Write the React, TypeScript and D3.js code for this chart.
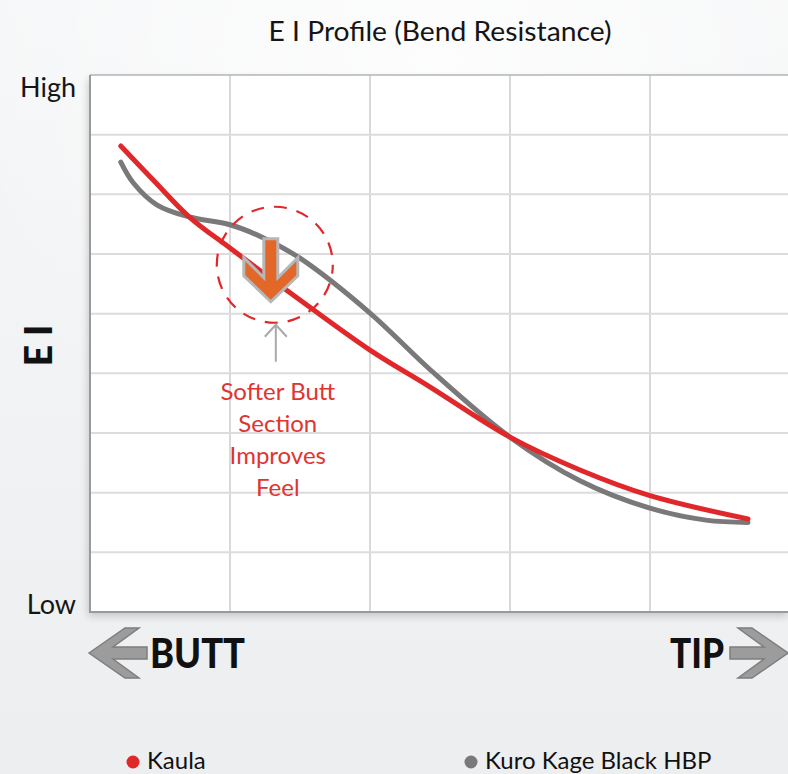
import React from "react"
import * as d3 from "d3"

const W = 788
const H = 774
const PLOT = { left: 90, top: 75, right: 790, bottom: 612 }

// grid in "cells": 5 columns along the shaft, 9 rows of stiffness
const COLS = [0, 1, 2, 3, 4, 5]
const ROWS = [0, 1, 2, 3, 4, 5, 6, 7, 8, 9]

const SERIES_NAMES = ["Kaula", "Kuro Kage Black HBP"]
const SERIES_COLORS = ["#e0282b", "#7b7879"]

const kaulaX = [0.22, 0.46, 0.71, 1.0, 1.5, 2.0, 2.43, 3.0, 3.5, 4.0, 4.7]
const kaulaY = [7.81, 7.22, 6.62, 6.1, 5.23, 4.39, 3.77, 2.93, 2.38, 1.95, 1.56]

const kuroX = [0.22, 0.31, 0.48, 0.71, 1.0, 1.24, 1.5, 2.0, 2.43, 3.0, 3.5, 4.0, 4.4, 4.7]
const kuroY = [7.54, 7.19, 6.82, 6.62, 6.49, 6.27, 5.93, 5.01, 4.06, 2.93, 2.2, 1.74, 1.54, 1.5]

const NOTE_LINES = ["Softer Butt", "Section", "Improves", "Feel"]
const NOTE_AT = { x: 1.32, y: 5.82 }

const FONT = "Lato, 'Open Sans', sans-serif"

export default function App() {
    const x = d3.scaleLinear().domain([0, 5]).range([PLOT.left, PLOT.right])
    const y = d3.scaleLinear().domain([0, 9]).range([PLOT.bottom, PLOT.top])

    const curve = d3
        .line<[number, number]>()
        .x((d) => x(d[0]))
        .y((d) => y(d[1]))
        .curve(d3.curveCatmullRom.alpha(0.5))

    const kaulaPath = curve(kaulaX.map((v, i) => [v, kaulaY[i]]))
    const kuroPath = curve(kuroX.map((v, i) => [v, kuroY[i]]))

    const cx = x(NOTE_AT.x)
    const cy = y(NOTE_AT.y)
    const r = 58

    // orange down arrow inside the circle (relative to circle centre)
    const downArrow = [
        [-11, -26], [3, -26], [3, 13], [23, -7], [23, 11], [-4, 37],
        [-31, 11], [-31, -7], [-11, 13],
    ]
        .map((p) => `${cx + p[0]},${cy + p[1]}`)
        .join(" ")

    const bigArrow = (dir: 1 | -1, tipX: number, midY: number) => {
        const pts = [
            [0, 0], [36, -25], [50, -25], [24, -6], [58, -6],
            [58, 6], [24, 6], [50, 25], [36, 25],
        ]
        return pts.map((p) => `${tipX + dir * p[0]},${midY + p[1]}`).join(" ")
    }

    return (
        <svg
            width={W}
            height={H}
            style={{ position: "absolute", left: 0, top: 0 }}
            fontFamily={FONT}
        >
            <defs>
                <linearGradient id="bg" x1="0" y1="0" x2="0" y2="1">
                    <stop offset="0" stopColor="#f6f7f8" />
                    <stop offset="1" stopColor="#eceef0" />
                </linearGradient>
                <radialGradient id="glow" cx="0.55" cy="0.1" r="0.6">
                    <stop offset="0" stopColor="#ffffff" stopOpacity={0.8} />
                    <stop offset="1" stopColor="#ffffff" stopOpacity={0} />
                </radialGradient>
                <filter id="shadow" x="-10%" y="-10%" width="130%" height="130%">
                    <feGaussianBlur stdDeviation="4" />
                </filter>
            </defs>
            <rect width={W} height={H} fill="url(#bg)" />
            <rect width={W} height={H} fill="url(#glow)" />

            <text x={440} y={41} textAnchor="middle" fontSize={26} fill="#151515" textLength={343} lengthAdjust="spacingAndGlyphs">
                E I Profile (Bend Resistance)
            </text>

            {/* plot panel */}
            <rect
                x={PLOT.left - 2}
                y={PLOT.top + 4}
                width={PLOT.right - PLOT.left}
                height={PLOT.bottom - PLOT.top}
                fill="#000"
                opacity={0.18}
                filter="url(#shadow)"
            />
            <rect
                x={PLOT.left}
                y={PLOT.top}
                width={PLOT.right - PLOT.left}
                height={PLOT.bottom - PLOT.top}
                fill="#ffffff"
            />
            {COLS.slice(1, -1).map((c) => (
                <line key={"c" + c} x1={x(c)} x2={x(c)} y1={PLOT.top} y2={PLOT.bottom} stroke="#d9d9d9" strokeWidth={2} />
            ))}
            {ROWS.slice(1, -1).map((rw) => (
                <line key={"r" + rw} x1={PLOT.left} x2={PLOT.right} y1={y(rw)} y2={y(rw)} stroke="#dcdcdc" strokeWidth={2} />
            ))}
            <line x1={PLOT.left} x2={PLOT.right} y1={PLOT.top} y2={PLOT.top} stroke="#b5b5b5" strokeWidth={1.5} />
            <line x1={PLOT.left} x2={PLOT.left} y1={PLOT.top} y2={PLOT.bottom} stroke="#9a9a9a" strokeWidth={2} />
            <line x1={PLOT.left - 1} x2={PLOT.right} y1={PLOT.bottom} y2={PLOT.bottom} stroke="#9a9a9a" strokeWidth={2} />

            <text x={76} y={97} textAnchor="end" fontSize={27} fill="#151515">High</text>
            <text x={76} y={614} textAnchor="end" fontSize={27} fill="#151515">Low</text>
            <text
                transform={`translate(52, ${(PLOT.top + PLOT.bottom) / 2 + 2}) rotate(-90)`}
                textAnchor="middle"
                fontSize={37}
                fontWeight={900}
                fill="#111"
            >
                E I
            </text>

            {/* series */}
            <path d={kuroPath ?? ""} fill="none" stroke={SERIES_COLORS[1]} strokeWidth={5} strokeLinecap="round" />
            <path d={kaulaPath ?? ""} fill="none" stroke={SERIES_COLORS[0]} strokeWidth={5} strokeLinecap="round" />

            {/* annotation */}
            <circle cx={cx} cy={cy} r={r} fill="none" stroke="#e0282b" strokeWidth={2.2} strokeDasharray="13 10" strokeDashoffset={4} />
            <polygon points={downArrow} fill="#e4672a" stroke="#b7b7b7" strokeWidth={3} strokeLinejoin="miter" />
            <g stroke="#a9a9a9" strokeWidth={2} fill="none">
                <line x1={cx + 1} x2={cx + 1} y1={cy + 97} y2={cy + 60} />
                <polyline points={`${cx - 10},${cy + 72} ${cx + 1},${cy + 60} ${cx + 12},${cy + 72}`} />
            </g>
            {NOTE_LINES.map((t, i) => (
                <text key={t} x={cx + 3} y={cy + 135 + i * 32} textAnchor="middle" fontSize={24} fill="#e0342f">
                    {t}
                </text>
            ))}

            {/* butt / tip markers */}
            <polygon points={bigArrow(1, 89, 653)} fill="#9c9c9c" stroke="#7e7e7e" strokeWidth={1.5} />
            <text x={150} y={668} fontSize={41} fontWeight={900} fill="#111" textLength={95} lengthAdjust="spacingAndGlyphs">BUTT</text>
            <text x={724} y={668} textAnchor="end" fontSize={41} fontWeight={900} fill="#111" textLength={54} lengthAdjust="spacingAndGlyphs">TIP</text>
            <polygon points={bigArrow(-1, 788, 653)} fill="#9c9c9c" stroke="#7e7e7e" strokeWidth={1.5} />

            {/* legend */}
            {SERIES_NAMES.map((name, i) => {
                const lx = i === 0 ? 133 : 471
                return (
                    <g key={name}>
                        <circle cx={lx} cy={762} r={6.5} fill={SERIES_COLORS[i]} />
                        <text x={lx + 14} y={769} fontSize={24} fill="#111">{name}</text>
                    </g>
                )
            })}
        </svg>
    )
}
